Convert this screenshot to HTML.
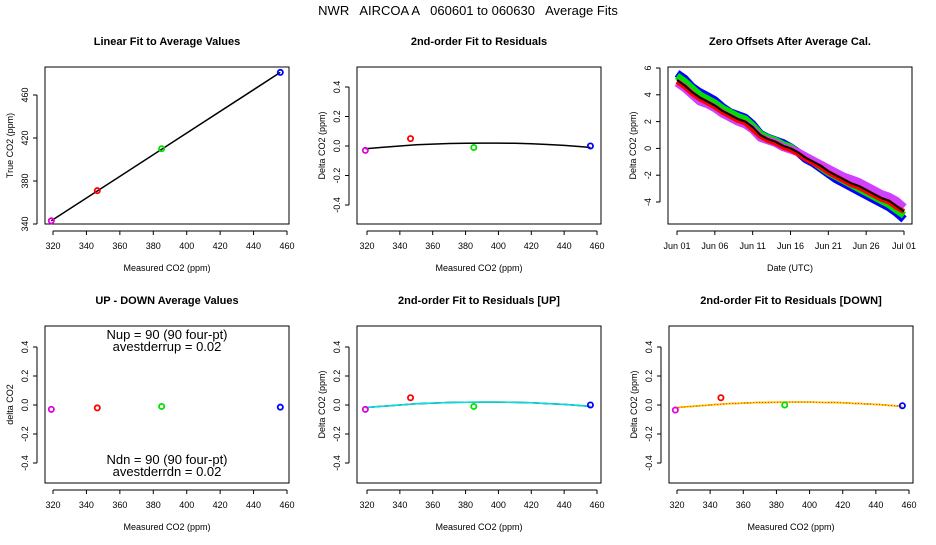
<!DOCTYPE html>
<html><head><meta charset="utf-8"><style>
body{margin:0;background:#fff;width:936px;height:540px;overflow:hidden}
svg{font-family:"Liberation Sans",Arial,sans-serif}
</style></head><body>
<svg id="c" width="936" height="540" viewBox="0 0 936 540" xmlns="http://www.w3.org/2000/svg">
<text x="468" y="15" font-size="13" text-anchor="middle" xml:space="preserve">NWR   AIRCOA A   060601 to 060630   Average Fits</text>
</svg>
<script>
// ---- data ----
const measured = [319, 346.5, 385, 456];
const trueVals = [343, 371, 410, 481];
const residuals = [-0.03, 0.05, -0.01, 0.0];
const upResid = [-0.03, 0.05, -0.01, 0.0];
const downResid = [-0.035, 0.05, 0.0, -0.005];
const udDiff = [-0.03, -0.02, -0.01, -0.015];
const pointColors = ["#e000e0", "#ff0000", "#00e000", "#0000ff"];
const fitX = [319, 330, 340, 350, 360, 370, 380, 390, 400, 410, 420, 430, 440, 450, 456];
const fitY = [-0.018, -0.008, 0.0, 0.008, 0.013, 0.017, 0.019, 0.02, 0.02, 0.018, 0.015, 0.01, 0.004, -0.004, -0.01];
const xTicks = [320, 340, 360, 380, 400, 420, 440, 460];
const residTicks = [-0.4, -0.2, 0.0, 0.2, 0.4];
const trueTicks = [340, 380, 420, 460];
const days = [0,1,2,3,4,5,6,7,8,9,10,11,12,13,14,15,16,17,18,19,20,21,22,23,24,25,26,27,28,29,30];
const zBlack = [5.1,4.7,4.2,3.8,3.5,3.2,2.8,2.5,2.2,2.0,1.6,1.0,0.7,0.5,0.2,0.0,-0.3,-0.7,-1.0,-1.3,-1.7,-2.0,-2.3,-2.6,-2.8,-3.1,-3.4,-3.7,-3.9,-4.3,-4.7];
const zBlue = [5.6,5.2,4.6,4.2,3.9,3.6,3.1,2.7,2.5,2.3,1.8,1.1,0.8,0.6,0.4,0.1,-0.3,-0.8,-1.1,-1.5,-1.9,-2.3,-2.6,-2.9,-3.2,-3.5,-3.8,-4.1,-4.4,-4.8,-5.3];
const zGreen = [5.4,5.0,4.5,4.0,3.7,3.4,3.0,2.7,2.4,2.2,1.7,1.1,0.8,0.6,0.3,0.1,-0.3,-0.7,-1.0,-1.4,-1.8,-2.1,-2.4,-2.7,-3.0,-3.3,-3.6,-3.9,-4.2,-4.6,-5.0];
const zRed = [5.0,4.6,4.1,3.7,3.4,3.1,2.7,2.4,2.1,1.9,1.4,0.9,0.6,0.4,0.1,-0.1,-0.4,-0.8,-1.1,-1.4,-1.8,-2.1,-2.4,-2.7,-2.9,-3.2,-3.5,-3.8,-4.0,-4.4,-4.7];
const zMagenta = [4.9,4.5,4.0,3.5,3.3,3.0,2.6,2.3,2.0,1.8,1.4,0.8,0.6,0.4,0.1,-0.1,-0.3,-0.6,-0.9,-1.2,-1.5,-1.8,-2.1,-2.3,-2.5,-2.8,-3.1,-3.4,-3.6,-3.9,-4.4];
const dateTicks = [0,5,10,15,20,25,30];
const dateLabels = ["Jun 01","Jun 06","Jun 11","Jun 16","Jun 21","Jun 26","Jul 01"];
const zTicks = [-4,-2,0,2,4,6];

const svg = document.getElementById('c');
const NS = "http://www.w3.org/2000/svg";
function el(tag, attrs, parent){ const e=document.createElementNS(NS,tag); for(const k in attrs) e.setAttribute(k,attrs[k]); (parent||svg).appendChild(e); return e; }
function txt(s, attrs, parent){ const e=el('text',attrs,parent); e.textContent=s; return e; }
function lin(d0,d1,r0,r1){ return v=>r0+(v-d0)*(r1-r0)/(d1-d0); }

function panel(o){
  const g = el('g',{});
  
  
  const t = txt(o.title,{x:(o.L+o.R)/2,y:o.T-22,'font-size':11,'font-weight':'bold','text-anchor':'middle'},g);
  
  
  const box = el('rect',{x:o.L,y:o.T,width:o.R-o.L,height:o.B-o.T,fill:'none',stroke:'#000','stroke-width':1},g);
  
  
  const xa = el('g',{},g);
  
  
  const xt=o.xTicks, X=o.X;
  el('line',{x1:X(xt[0]),x2:X(xt[xt.length-1]),y1:o.B+7,y2:o.B+7,stroke:'#000'},xa);
  xt.forEach((v,i)=>{ el('line',{x1:X(v),x2:X(v),y1:o.B+7,y2:o.B+11,stroke:'#000'},xa);
    txt(o.xLabels?o.xLabels[i]:String(v),{x:X(v),y:o.B+25,'font-size':9,'text-anchor':'middle'},xa); });
  const xl = txt(o.xTitle,{x:(o.L+o.R)/2,y:o.B+47,'font-size':9,'text-anchor':'middle'},g);
  
  
  const ya = el('g',{},g);
  
  
  const yt=o.yTicks, Y=o.Y, ax=o.L-8;
  el('line',{x1:ax,x2:ax,y1:Y(yt[0]),y2:Y(yt[yt.length-1]),stroke:'#000'},ya);
  yt.forEach(v=>{ el('line',{x1:ax-4,x2:ax,y1:Y(v),y2:Y(v),stroke:'#000'},ya);
    const s = o.yFmt?o.yFmt(v):String(v);
    txt(s,{x:0,y:0,'font-size':9,'text-anchor':'middle',transform:`translate(${ax-9},${Y(v)}) rotate(-90)`},ya); });
  const yl = txt(o.yTitle,{x:0,y:0,'font-size':9,'text-anchor':'middle',transform:`translate(${o.L-32},${(o.T+o.B)/2}) rotate(-90)`},g);
  
  
  return g;
}
function pts(g,xs,ys,X,Y){
  xs.forEach((x,i)=>{ const c=el('circle',{cx:X(x),cy:Y(ys[i]),r:2.6,fill:'none',stroke:pointColors[i],'stroke-width':1.8},g);
    
     });
}
function line(g,xs,ys,X,Y,attrs,name){
  const d = xs.map((x,i)=>(i?'L':'M')+X(x).toFixed(1)+' '+Y(ys[i]).toFixed(1)).join(' ');
  const p = el('path',Object.assign({d:d,fill:'none','stroke-linejoin':'round'},attrs),g);
  
  
  return p;
}
const f2 = v=>v.toFixed(1);

{ const X=lin(320,460,53,287), Y=lin(340,460,224,95);
  const g=panel({name:'linear-fit-panel',title:'Linear Fit to Average Values',L:45,R:289,T:67,B:224,X,Y,xTicks,yTicks:trueTicks,xTitle:'Measured CO2 (ppm)',yTitle:'True CO2 (ppm)'});
  line(g,[measured[0],measured[3]],[trueVals[0],trueVals[3]],X,Y,{stroke:'#000','stroke-width':1.5},'fit-line');
  pts(g,measured,trueVals,X,Y); }
{ const X=lin(320,460,367,597), Y=lin(-0.4,0.4,205,87);
  const g=panel({name:'residual-fit-panel',title:'2nd-order Fit to Residuals',L:357,R:601,T:67,B:224,X,Y,xTicks,yTicks:residTicks,yFmt:f2,xTitle:'Measured CO2 (ppm)',yTitle:'Delta CO2 (ppm)'});
  line(g,fitX,fitY,X,Y,{stroke:'#000','stroke-width':1.5},'fit-curve');
  pts(g,measured,residuals,X,Y); }
{ const X=lin(0,30,677,904), Y=lin(-4,6,202,68);
  const g=panel({name:'zero-offsets-panel',title:'Zero Offsets After Average Cal.',L:668,R:912,T:67,B:224,X,Y,xTicks:dateTicks,xLabels:dateLabels,yTicks:zTicks,xTitle:'Date (UTC)',yTitle:'Delta CO2 (ppm)'});
  line(g,days,zBlue,X,Y,{stroke:'#0000ff','stroke-width':8},'series-blue');
  line(g,days,zGreen,X,Y,{stroke:'#00e000','stroke-width':7},'series-green');
  line(g,days,zMagenta,X,Y,{stroke:'#d040ff','stroke-width':8},'series-magenta');
  line(g,days,zRed,X,Y,{stroke:'#ff0000','stroke-width':5},'series-red');
  line(g,days,zBlack,X,Y,{stroke:'#000','stroke-width':2},'series-black'); }
{ const X=lin(320,460,53,287), Y=lin(-0.4,0.4,463,347);
  const g=panel({name:'up-down-panel',title:'UP - DOWN Average Values',L:45,R:289,T:326,B:483,X,Y,xTicks,yTicks:residTicks,yFmt:f2,xTitle:'Measured CO2 (ppm)',yTitle:'delta CO2'});
  pts(g,measured,udDiff,X,Y);
  [['Nup = 90 (90 four-pt)',339],['avestderrup =  0.02',351],['Ndn = 90 (90 four-pt)',464],['avestderrdn =  0.02',476]].forEach(a=>{
    const t=txt(a[0],{x:167,y:a[1],'font-size':13,'text-anchor':'middle','xml:space':'preserve'},g);
    
     }); }
{ const X=lin(320,460,367,597), Y=lin(-0.4,0.4,463,347);
  const g=panel({name:'residual-fit-up-panel',title:'2nd-order Fit to Residuals [UP]',L:357,R:601,T:326,B:483,X,Y,xTicks,yTicks:residTicks,yFmt:f2,xTitle:'Measured CO2 (ppm)',yTitle:'Delta CO2 (ppm)'});
  line(g,fitX,fitY,X,Y,{stroke:'#000','stroke-width':1.5},'fit-curve');
  line(g,fitX,fitY,X,Y,{stroke:'#00e0e0','stroke-width':1.5},'fit-curve-up');
  pts(g,measured,upResid,X,Y); }
{ const X=lin(320,460,677,909), Y=lin(-0.4,0.4,463,347);
  const g=panel({name:'residual-fit-down-panel',title:'2nd-order Fit to Residuals [DOWN]',L:669,R:913,T:326,B:483,X,Y,xTicks,yTicks:residTicks,yFmt:f2,xTitle:'Measured CO2 (ppm)',yTitle:'Delta CO2 (ppm)'});
  line(g,fitX,fitY,X,Y,{stroke:'#000','stroke-width':1.5},'fit-curve');
  line(g,fitX,fitY,X,Y,{stroke:'#ffd000','stroke-width':1.8},'fit-curve-down');
  line(g,fitX,fitY,X,Y,{stroke:'#ff0000','stroke-width':0.8,'stroke-dasharray':'1 2'},'fit-curve-down-dots');
  pts(g,measured,downResid,X,Y); }
</script>
</body></html>
